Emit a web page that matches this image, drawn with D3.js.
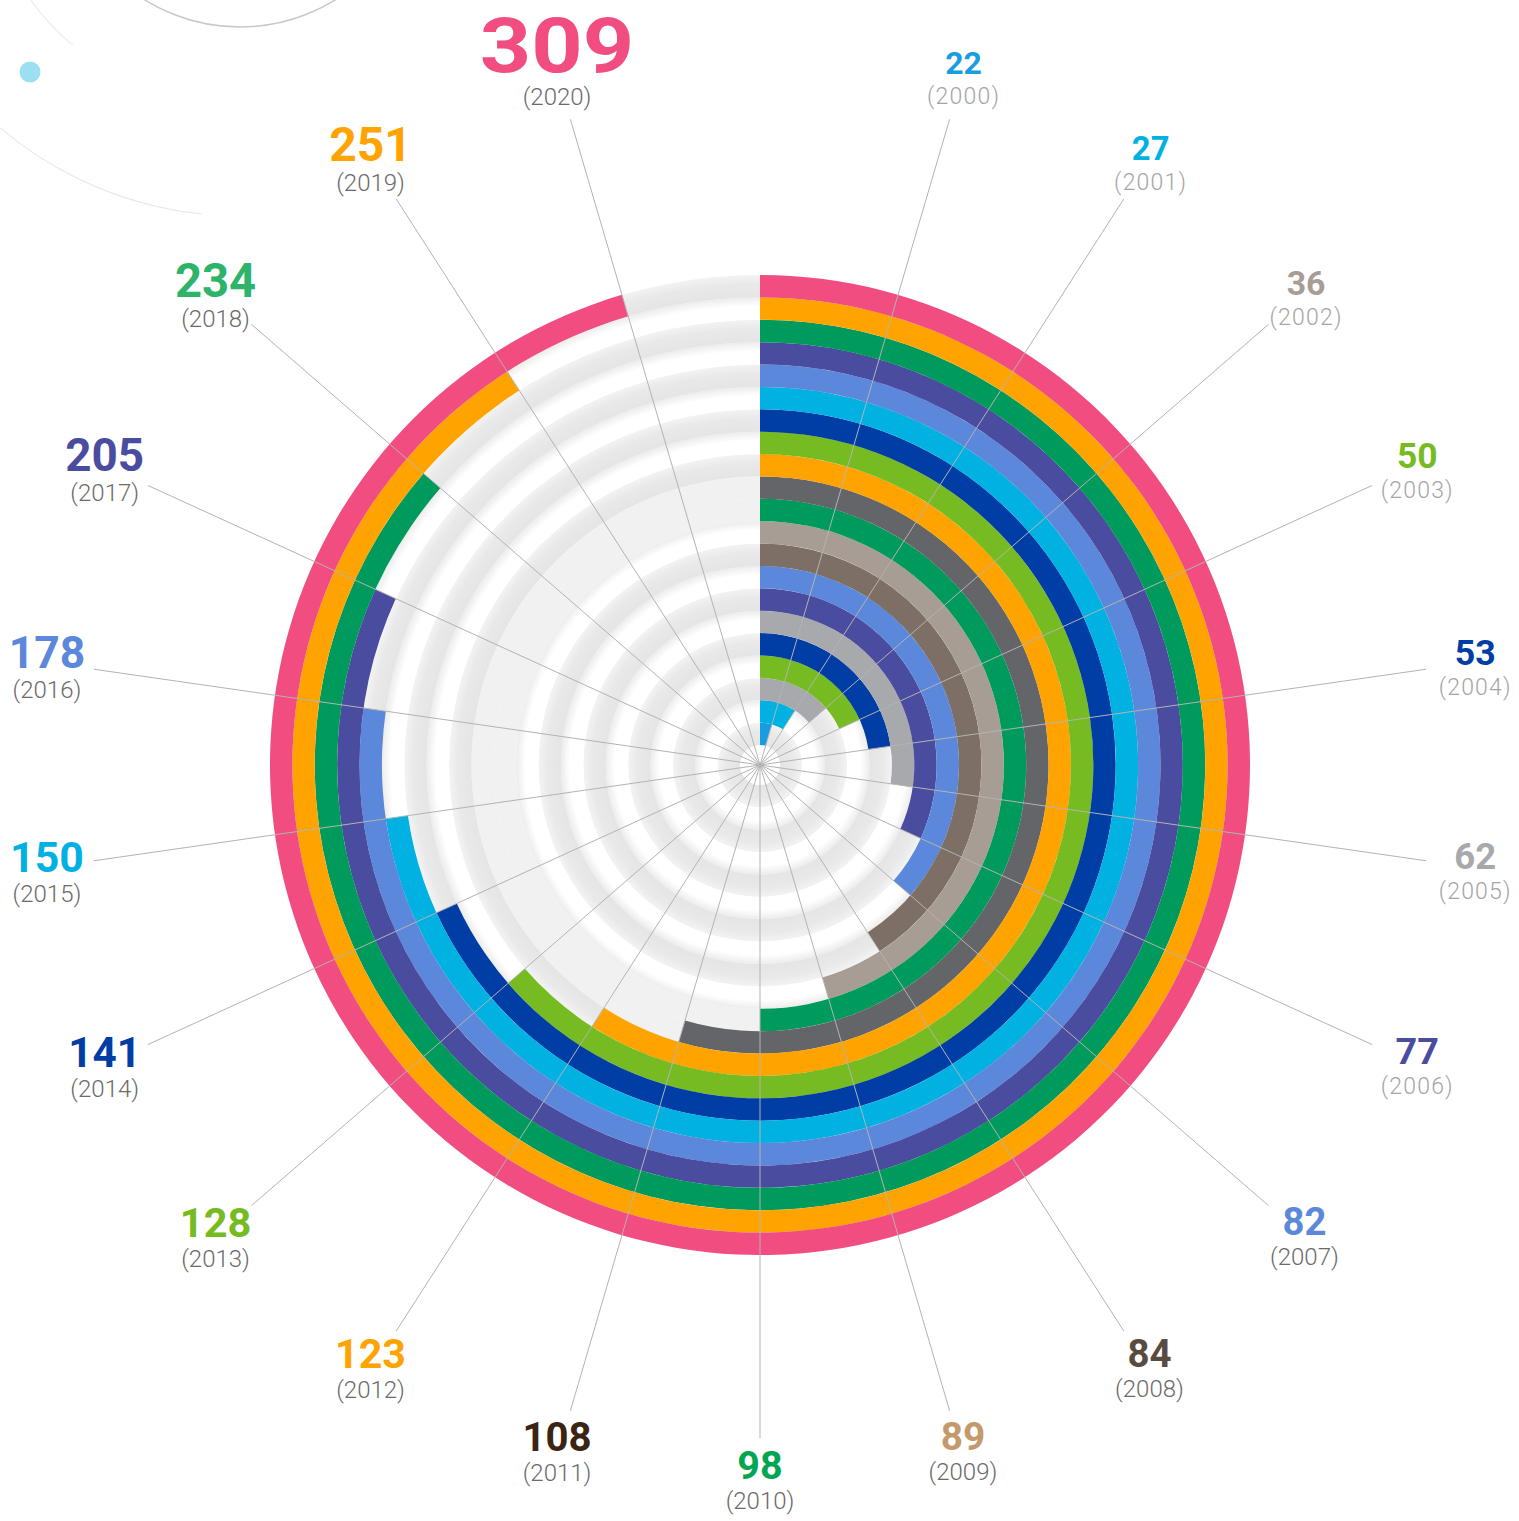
<!DOCTYPE html>
<html lang="en">
<head>
<meta charset="UTF-8">
<title>Radial bars 2000-2020</title>
<script src="https://d3js.org/d3.v7.min.js"></script>
<style>
  body { margin: 0; background: #fff; }
  svg { display: block; }
</style>
</head>
<body>
<svg id="radial"></svg>
<script>
const years = [2000, 2001, 2002, 2003, 2004, 2005, 2006, 2007, 2008, 2009, 2010,
               2011, 2012, 2013, 2014, 2015, 2016, 2017, 2018, 2019, 2020];
const values = [22, 27, 36, 50, 53, 62, 77, 82, 84, 89, 98,
                108, 123, 128, 141, 150, 178, 205, 234, 251, 309];
const ringColors = ["#1a9de0", "#00b1e2", "#a7a9ac", "#76bb21", "#003da5", "#a7a9ac", "#4a4d9f",
                    "#5b88da", "#7e6f66", "#a89d95", "#009a5c", "#646569", "#ffa300", "#76bb21",
                    "#003da5", "#00b1e2", "#5b88da", "#4a4d9f", "#009a5c", "#ffa300", "#f24d80"];
const labelColors = ["#1a9de0", "#00b1e2", "#a89d95", "#76bb21", "#003da5", "#a7a9ac", "#4a4d9f",
                     "#5b88da", "#5a4a40", "#c49a6c", "#00a651", "#3c2415", "#ffa300", "#76bb21",
                     "#003da5", "#00b1e2", "#5b88da", "#4a4d9f", "#2db36a", "#ffa300", "#f24d80"];

const data = years.map((y, i) => ({ year: y, value: values[i], ring: ringColors[i], label: labelColors[i], i: i }));

const width = 1519, height = 1521;
const cx = 760, cy = 765;
const innerR = 20, outerR = 490;

const svg = d3.select("#radial")
    .attr("width", width)
    .attr("height", height);

// bits of the neighbouring graphic, cut by the frame at top left
const deco = svg.append("g").attr("transform", "translate(240,-154)");
deco.append("circle")
    .attr("r", 181)
    .attr("fill", "none")
    .attr("stroke", "#c9c9c9")
    .attr("stroke-width", 1.5);
deco.append("path")
    .attr("d", d3.arc().innerRadius(369.5).outerRadius(370.5)
        .startAngle(186 * Math.PI / 180).endAngle(226 * Math.PI / 180)())
    .attr("fill", "#e6e6e6");
deco.append("path")
    .attr("d", d3.arc().innerRadius(259.5).outerRadius(260.5)
        .startAngle(220 * Math.PI / 180).endAngle(236 * Math.PI / 180)())
    .attr("fill", "#e9e9e9");
svg.append("circle")
    .attr("cx", 30).attr("cy", 72).attr("r", 10.5)
    .attr("fill", "#9ddff2");

const g = svg.append("g").attr("transform", `translate(${cx},${cy})`);

const r = d3.scaleBand()
    .domain(years)
    .range([innerR, outerR])
    .padding(0);

const step = 2 * Math.PI / (years.length + 1);
const angle = d3.scalePoint()
    .domain(years)
    .range([step, years.length * step]);

// track backgrounds
const defs = svg.append("defs");
const grads = defs.selectAll("radialGradient")
    .data(data)
    .enter()
    .append("radialGradient")
    .attr("id", d => "track" + d.year)
    .attr("gradientUnits", "userSpaceOnUse")
    .attr("cx", 0).attr("cy", 0)
    .attr("r", d => r(d.year) + r.bandwidth());

grads.each(function(d) {
    const ro = r(d.year) + r.bandwidth();
    const f0 = r(d.year) / ro;
    let stops;
    if (d.i === 10 || d.i === 11) {
        stops = [[0, "#f1f1f1"], [1, "#f1f1f1"]];
    } else if (d.i % 2 === 0) {
        stops = [[0, "#e5e5e5"], [f0, "#e5e5e5"], [f0 + (1 - f0) * 0.6, "#e9e9e9"], [1, "#f3f3f3"]];
    } else {
        stops = [[0, "#ffffff"], [f0, "#ffffff"], [f0 + (1 - f0) * 0.6, "#ffffff"], [1, "#ececec"]];
    }
    d3.select(this).selectAll("stop")
        .data(stops)
        .enter()
        .append("stop")
        .attr("offset", s => s[0])
        .attr("stop-color", s => s[1]);
});

g.selectAll(".track")
    .data(data)
    .enter()
    .append("path")
    .attr("class", "track")
    .attr("d", d => d3.arc()
        .innerRadius(r(d.year))
        .outerRadius(r(d.year) + r.bandwidth())
        .startAngle(0)
        .endAngle(2 * Math.PI)())
    .attr("fill", d => `url(#track${d.year})`);

// coloured rings
g.selectAll(".ring")
    .data(data)
    .enter()
    .append("path")
    .attr("class", "ring")
    .attr("d", d => d3.arc()
        .innerRadius(r(d.year))
        .outerRadius(r(d.year) + r.bandwidth())
        .startAngle(0)
        .endAngle(angle(d.year))())
    .attr("fill", d => d.ring);

// leader lines
const leaderR = 673;
const spoke = d3.lineRadial()
    .angle(p => p[0])
    .radius(p => p[1]);

g.selectAll(".spoke")
    .data(data)
    .enter()
    .append("path")
    .attr("class", "spoke")
    .attr("d", d => spoke([[angle(d.year), 0], [angle(d.year), leaderR]]))
    .attr("stroke", "#b3b3b3")
    .attr("stroke-width", 1)
    .attr("fill", "none");

// labels
const peak = d3.max(values);
const fs = d3.scaleSqrt()
    .domain([d3.min(values), d3.max(values.filter(v => v !== peak))])
    .range([32, 48]);
const fontSize = v => v === peak ? 76 : fs(v);
const early = y => y < 2007;
const yearGap = d => d.value === peak ? 33 : 30;
const labelR = 686;

const labels = g.selectAll(".label")
    .data(data)
    .enter()
    .append("g")
    .attr("class", "label");

labels.append("text")
    .attr("class", "num")
    .attr("text-anchor", "middle")
    .attr("transform", d => d.value === peak ? "scale(1.18,1)" : null)
    .style("font-family", "Roboto, 'Noto Sans', sans-serif")
    .style("font-weight", 700)
    .style("font-size", d => fontSize(d.value) + "px")
    .attr("fill", d => d.label)
    .text(d => d.value);

labels.append("text")
    .attr("class", "yr")
    .attr("text-anchor", "middle")
    .attr("y", d => yearGap(d))
    .style("font-family", "Roboto, 'Noto Sans', sans-serif")
    .style("font-weight", 300)
    .style("font-size", d => early(d.year) ? "23px" : "24px")
    .style("letter-spacing", d => early(d.year) ? "1.2px" : "0px")
    .attr("fill", d => early(d.year) ? "#a5a5a5" : "#6b6b6b")
    .text(d => `(${d.year})`);

// push each label just outside the circle along its spoke
labels.attr("transform", function(d) {
    const s = fontSize(d.value);
    const w = d3.select(this).select(".yr").node().getComputedTextLength();
    const top = -0.72 * s, bottom = yearGap(d) + 4;
    const h = bottom - top;
    const a = angle(d.year);
    const ux = Math.sin(a), uy = -Math.cos(a);
    const x = ux * labelR + ux * w / 2;
    const y = uy * labelR + uy * h / 2 + 6 * (1 - uy * uy);
    return `translate(${x},${y - (top + bottom) / 2})`;
});
</script>
</body>
</html>
